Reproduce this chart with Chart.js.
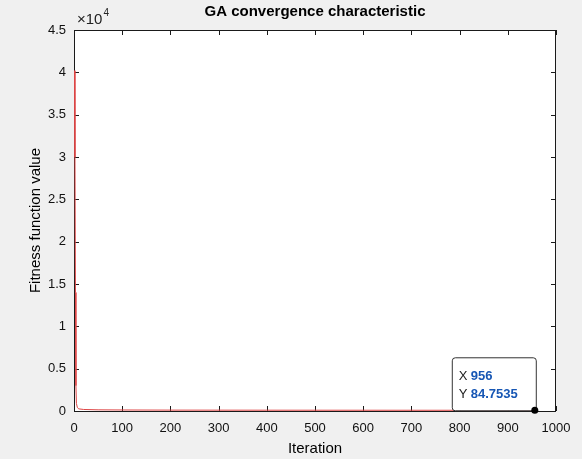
<!DOCTYPE html>
<html lang="en">
<head>
  <meta charset="UTF-8">
  <title>GA convergence characteristic</title>
  <script src="https://cdn.jsdelivr.net/npm/chart.js"></script>
  <style>
    body { margin: 0; background: #f0f0f0; }
    canvas { display: block; }
  </style>
</head>
<body>
  <canvas id="myChart" width="582" height="459"></canvas>

  <script>
    // best fitness per iteration
    const iterations = [1, 2, 3, 4, 5, 7, 10, 20, 50, 100, 200, 400, 700, 956];
    const fitness = [40200, 30000, 14000, 3000, 900, 400, 250, 180, 140, 120, 105, 95, 88, 84.7535];

    const xTicks = [0, 100, 200, 300, 400, 500, 600, 700, 800, 900, 1000];
    const yTicks = [0, 0.5, 1, 1.5, 2, 2.5, 3, 3.5, 4, 4.5];

    const chartTitle = 'GA convergence characteristic';
    const xLabel = 'Iteration';
    const yLabel = 'Fitness function value';

    const tipX = iterations[iterations.length - 1];
    const tipY = fitness[fitness.length - 1];

    const FONT = "'Liberation Sans', Arial, sans-serif";

    // frame, inward ticks, titles and data tip drawn like a MATLAB figure
    const matlabLook = {
      id: 'matlabLook',
      beforeDatasetsDraw(chart) {
        const { ctx, chartArea: a, scales } = chart;
        const xs = scales.x, ys = scales.y;
        ctx.save();
        ctx.fillStyle = '#ffffff';
        ctx.fillRect(a.left, a.top, a.right - a.left, a.bottom - a.top);

        // box
        ctx.strokeStyle = '#1a1a1a';
        ctx.lineWidth = 1;
        ctx.strokeRect(a.left + 0.5, a.top + 0.5, a.right - a.left - 1, a.bottom - a.top);

        // inward ticks on all four sides
        ctx.beginPath();
        xTicks.forEach(v => {
          const px = Math.round(xs.getPixelForValue(v)) + 0.5;
          ctx.moveTo(px, a.bottom); ctx.lineTo(px, a.bottom - 5);
          ctx.moveTo(px, a.top); ctx.lineTo(px, a.top + 5);
        });
        yTicks.forEach(v => {
          const py = Math.round(ys.getPixelForValue(v * 1e4)) + 0.5;
          ctx.moveTo(a.left, py); ctx.lineTo(a.left + 5, py);
          ctx.moveTo(a.right, py); ctx.lineTo(a.right - 5, py);
        });
        ctx.stroke();
        ctx.restore();
      },
      afterDraw(chart) {
        const { ctx, chartArea: a, scales } = chart;
        const xs = scales.x, ys = scales.y;
        ctx.save();

        // title
        ctx.fillStyle = '#000';
        ctx.textAlign = 'center';
        ctx.textBaseline = 'middle';
        ctx.font = 'bold 15px ' + FONT;
        ctx.fillText(chartTitle, (a.left + a.right) / 2, 12);

        // axis labels
        ctx.font = '15px ' + FONT;
        ctx.fillText(xLabel, (a.left + a.right) / 2, 449);
        ctx.save();
        ctx.translate(36, (a.top + a.bottom) / 2);
        ctx.rotate(-Math.PI / 2);
        ctx.fillText(yLabel, 0, 0);
        ctx.restore();

        // exponent label
        ctx.textAlign = 'left';
        ctx.textBaseline = 'alphabetic';
        ctx.font = '15px ' + FONT;
        ctx.fillStyle = '#222';
        ctx.fillText('\u00d710', a.left + 3, 24);
        const ew = ctx.measureText('\u00d710').width;
        ctx.font = '10px ' + FONT;
        ctx.fillText('4', a.left + 4 + ew, 16);

        // data tip
        const mx = xs.getPixelForValue(tipX);
        const my = ys.getPixelForValue(tipY);
        const bw = 84, bh = 53;
        const bx = mx - bw + 1, by = my - bh;
        ctx.fillStyle = '#ffffff';
        ctx.strokeStyle = '#333';
        ctx.lineWidth = 1;
        ctx.beginPath();
        ctx.roundRect(bx + 0.5, by + 0.5, bw, bh, 3);
        ctx.fill();
        ctx.stroke();

        ctx.font = '13px ' + FONT;
        ctx.fillStyle = '#222';
        ctx.textBaseline = 'middle';
        ctx.fillText('X', bx + 7, by + 19);
        ctx.fillText('Y', bx + 7, by + 37);
        ctx.font = 'bold 13px ' + FONT;
        ctx.fillStyle = '#1656b4';
        ctx.fillText(String(tipX), bx + 19, by + 19);
        ctx.fillText(String(tipY), bx + 19, by + 37);

        ctx.fillStyle = '#000';
        ctx.beginPath();
        ctx.arc(mx, my, 3.5, 0, Math.PI * 2);
        ctx.fill();

        ctx.restore();
      }
    };

    const ctx = document.getElementById('myChart').getContext('2d');

    new Chart(ctx, {
      type: 'line',
      data: {
        datasets: [{
          data: iterations.map((it, i) => ({ x: it, y: fitness[i] })),
          borderColor: 'rgb(222, 70, 70)',
          borderWidth: 1,
          pointRadius: 0,
          fill: false,
          tension: 0
        }]
      },
      options: {
        responsive: false,
        animation: false,
        devicePixelRatio: 1,
        layout: { padding: { top: 30, right: 26, left: 0, bottom: 0 } },
        plugins: {
          legend: { display: false },
          tooltip: { enabled: false },
          title: { display: false }
        },
        scales: {
          x: {
            type: 'linear',
            min: 0,
            max: 1000,
            afterFit: s => { s.height = 48; },
            afterBuildTicks: s => { s.ticks = xTicks.map(v => ({ value: v })); },
            grid: { display: false, drawTicks: false },
            border: { display: false },
            ticks: {
              padding: 10,
              color: '#111',
              font: { family: FONT, size: 13 },
              maxRotation: 0,
              callback: v => String(v)
            }
          },
          y: {
            type: 'linear',
            min: 0,
            max: 45000,
            afterFit: s => { s.width = 74; },
            afterBuildTicks: s => { s.ticks = yTicks.map(v => ({ value: v * 1e4 })); },
            grid: { display: false, drawTicks: false },
            border: { display: false },
            ticks: {
              padding: 8,
              color: '#111',
              font: { family: FONT, size: 13 },
              callback: v => String(v / 1e4)
            }
          }
        }
      },
      plugins: [matlabLook]
    });
  </script>
</body>
</html>
